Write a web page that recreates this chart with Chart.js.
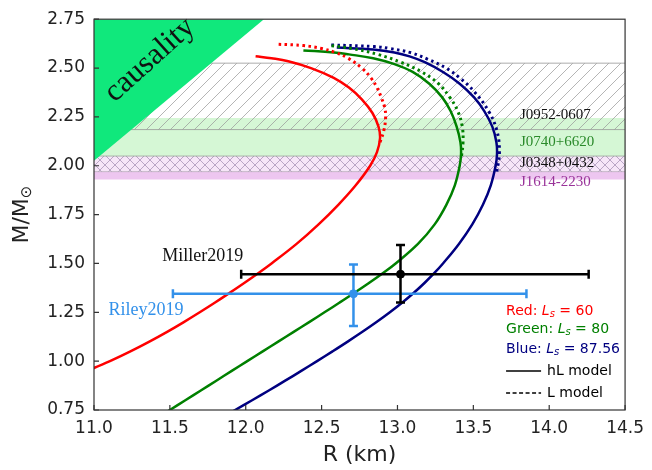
<!DOCTYPE html>
<html>
<head>
<meta charset="utf-8">
<script src="https://cdn.jsdelivr.net/npm/chart.js@4.4.1/dist/chart.umd.min.js"></script>
<style>
  html, body { margin: 0; padding: 0; background: #fff; }
  #wrap { width: 652px; height: 470px; }
</style>
</head>
<body>
<div id="wrap"><canvas id="mr"></canvas></div>
<script>
// M-R curves (R in km, M in solar masses)
const redHL_M = [0.945, 0.965, 1.00, 1.05, 1.10, 1.15, 1.20, 1.25, 1.30, 1.35, 1.40, 1.45, 1.50, 1.60, 1.70, 1.80, 1.90, 2.00, 2.07, 2.14, 2.20, 2.27, 2.34, 2.40, 2.45, 2.50, 2.535, 2.55, 2.56];
const redHL_R = [10.95, 11.0, 11.105, 11.24, 11.365, 11.482, 11.592, 11.697, 11.798, 11.895, 11.99, 12.082, 12.17, 12.335, 12.48, 12.61, 12.725, 12.82, 12.865, 12.885, 12.875, 12.835, 12.765, 12.68, 12.58, 12.43, 12.28, 12.17, 12.065];
const redL_M = [2.12, 2.18, 2.25, 2.30, 2.35, 2.40, 2.45, 2.50, 2.55, 2.58, 2.60, 2.615, 2.622];
const redL_R = [12.885, 12.91, 12.922, 12.915, 12.893, 12.865, 12.825, 12.765, 12.675, 12.59, 12.50, 12.38, 12.205];

const greenHL_M = [0.72, 0.75, 0.80, 0.85, 0.90, 0.95, 1.00, 1.05, 1.10, 1.15, 1.20, 1.25, 1.30, 1.35, 1.40, 1.45, 1.50, 1.60, 1.70, 1.80, 1.90, 2.00, 2.06, 2.12, 2.20, 2.28, 2.35, 2.42, 2.48, 2.52, 2.55, 2.57, 2.58, 2.59];
const greenHL_R = [11.44, 11.50, 11.602, 11.704, 11.806, 11.908, 12.01, 12.112, 12.214, 12.316, 12.418, 12.519, 12.619, 12.717, 12.812, 12.903, 12.988, 13.135, 13.245, 13.322, 13.378, 13.41, 13.419, 13.415, 13.39, 13.35, 13.295, 13.21, 13.10, 12.98, 12.84, 12.68, 12.58, 12.38];
const greenL_M = [2.05, 2.12, 2.20, 2.28, 2.35, 2.42, 2.48, 2.53, 2.57, 2.60, 2.615];
const greenL_R = [13.422, 13.432, 13.427, 13.397, 13.345, 13.27, 13.16, 13.02, 12.87, 12.70, 12.56];

const blueHL_M = [0.725, 0.75, 0.80, 0.85, 0.90, 0.95, 1.00, 1.05, 1.10, 1.15, 1.20, 1.25, 1.30, 1.35, 1.40, 1.45, 1.50, 1.60, 1.70, 1.80, 1.90, 2.00, 2.06, 2.12, 2.20, 2.28, 2.35, 2.42, 2.48, 2.53, 2.56, 2.58, 2.595, 2.605];
const blueHL_R = [11.875, 11.93, 12.042, 12.152, 12.26, 12.366, 12.47, 12.572, 12.672, 12.769, 12.862, 12.95, 13.032, 13.108, 13.178, 13.242, 13.30, 13.405, 13.493, 13.563, 13.615, 13.647, 13.656, 13.652, 13.625, 13.572, 13.505, 13.41, 13.30, 13.18, 13.08, 12.98, 12.84, 12.60];
const blueL_M = [1.97, 2.07, 2.18, 2.28, 2.38, 2.45, 2.50, 2.545, 2.578, 2.60, 2.61, 2.618];
const blueL_R = [13.655, 13.672, 13.655, 13.6, 13.505, 13.41, 13.32, 13.2, 13.09, 12.95, 12.85, 12.56];

// pulsar mass bands
const bandNames = ['J0952-0607', 'J0740+6620', 'J0348+0432', 'J1614-2230'];
const bandLow = [2.185, 2.045, 1.97, 1.93];
const bandHigh = [2.525, 2.245, 2.05, 1.97];

// NICER measurements
const obsNames = ['Miller2019', 'Riley2019'];
const obsR = [13.02, 12.71];
const obsRlo = [11.97, 11.52];
const obsRhi = [14.26, 13.85];
const obsM = [1.445, 1.345];
const obsMlo = [1.30, 1.18];
const obsMhi = [1.595, 1.495];

// causality limit edge
const causalR = [11.0, 12.12];
const causalM = [2.025, 2.75];

const xTicks = [11.0, 11.5, 12.0, 12.5, 13.0, 13.5, 14.0, 14.5];
const yTicks = [0.75, 1.00, 1.25, 1.50, 1.75, 2.00, 2.25, 2.50, 2.75];

const pts = (rs, ms) => rs.map((r, i) => ({ x: r, y: ms[i] }));

function hatch(size, bg, stroke, cross) {
    const c = document.createElement('canvas');
    c.width = size; c.height = size;
    const g = c.getContext('2d');
    if (bg) { g.fillStyle = bg; g.fillRect(0, 0, size, size); }
    g.strokeStyle = stroke;
    g.lineWidth = 1;
    g.beginPath();
    g.moveTo(-1, size + 1); g.lineTo(size + 1, -1);
    g.moveTo(-1, 1); g.lineTo(1, -1);
    g.moveTo(size - 1, size + 1); g.lineTo(size + 1, size - 1);
    if (cross) {
        g.moveTo(-1, -1); g.lineTo(size + 1, size + 1);
        g.moveTo(size - 1, -1); g.lineTo(size + 1, 1);
        g.moveTo(-1, size - 1); g.lineTo(1, size + 1);
    }
    g.stroke();
    return g.createPattern(c, 'repeat');
}

const grayHatch = hatch(12, null, 'rgba(150,150,150,0.7)', false);
const purpleHatch = hatch(10, 'rgba(235,200,240,0.45)', 'rgba(170,150,185,0.8)', true);

const flat = (m) => [{ x: 11.0, y: m }, { x: 14.5, y: m }];

function band(m, lo, fillColor, border, order) {
    return {
        data: flat(m), fill: { target: { value: lo } }, backgroundColor: fillColor,
        borderColor: border || 'rgba(0,0,0,0)', borderWidth: 1, pointRadius: 0, order: order
    };
}

function curve(rs, ms, color, dotted) {
    return {
        data: pts(rs, ms), borderColor: color, borderWidth: dotted ? 3 : 2.5,
        borderDash: dotted ? [2.5, 3.5] : [], tension: 0.4, pointRadius: 0, fill: false, order: 5
    };
}

function errBars(i, color) {
    const common = { borderColor: color, borderWidth: 2.5, fill: false, order: 1,
        pointStyle: 'line', pointRadius: 4.5, pointBorderColor: color, pointBorderWidth: 2.5 };
    return [
        Object.assign({ data: [{ x: obsRlo[i], y: obsM[i] }, { x: obsRhi[i], y: obsM[i] }], pointRotation: 90 }, common),
        Object.assign({ data: [{ x: obsR[i], y: obsMlo[i] }, { x: obsR[i], y: obsMhi[i] }], pointRotation: 0 }, common),
        { data: [{ x: obsR[i], y: obsM[i] }], showLine: false, pointStyle: 'circle', pointRadius: 4,
          pointBackgroundColor: color, pointBorderColor: color, order: 0 }
    ];
}

const datasets = [
    band(bandHigh[1], bandLow[1], 'rgba(150,235,150,0.4)', null, 20),
    band(bandHigh[3], bandLow[3], 'rgba(225,160,230,0.6)', null, 19),
    band(bandHigh[2], bandLow[2], purpleHatch, 'rgba(150,150,150,0.6)', 18),
    { data: flat(bandLow[2]), borderColor: 'rgba(150,150,150,0.6)', borderWidth: 1, pointRadius: 0, fill: false, order: 18 },
    band(bandHigh[0], bandLow[0], grayHatch, 'rgba(150,150,150,0.8)', 17),
    { data: flat(bandLow[0]), borderColor: 'rgba(150,150,150,0.8)', borderWidth: 1, pointRadius: 0, fill: false, order: 17 },
    { data: pts(causalR, causalM), fill: 'end', backgroundColor: '#10e87c', borderColor: '#10e87c',
      borderWidth: 0, pointRadius: 0, order: 15 },
    curve(redL_R, redL_M, '#ff0000', true),
    curve(greenL_R, greenL_M, '#008000', true),
    curve(blueL_R, blueL_M, '#000080', true),
    curve(redHL_R, redHL_M, '#ff0000', false),
    curve(greenHL_R, greenHL_M, '#008000', false),
    curve(blueHL_R, blueHL_M, '#000080', false),
    ...errBars(0, '#000000'),
    ...errBars(1, '#3391ea')
];

function runs(ctx, x, y, parts) {
    parts.forEach(p => {
        ctx.font = p.font;
        ctx.fillStyle = p.color;
        ctx.fillText(p.t, x, y + (p.dy || 0));
        x += ctx.measureText(p.t).width;
    });
    return x;
}

const decor = {
    id: 'decor',
    afterDatasetsDraw(chart) {
        const ctx = chart.ctx;
        const a = chart.chartArea;
        const xs = chart.scales.x, ys = chart.scales.y;
        ctx.save();

        // causality label
        ctx.save();
        ctx.translate(150, 60);
        ctx.rotate(-42 * Math.PI / 180);
        ctx.font = '31px "Liberation Serif"';
        ctx.fillStyle = '#111';
        ctx.textAlign = 'center';
        ctx.textBaseline = 'middle';
        ctx.fillText('causality', 0, 0);
        ctx.restore();

        // band labels
        const bandColors = ['#111111', '#2a8a2a', '#111111', '#993399'];
        const bandY = [2.26, 2.12, 2.015, 1.915];
        ctx.font = '15px "Liberation Serif"';
        ctx.textBaseline = 'middle';
        ctx.textAlign = 'left';
        bandNames.forEach((n, i) => {
            ctx.fillStyle = bandColors[i];
            ctx.fillText(n, xs.getPixelForValue(13.807), ys.getPixelForValue(bandY[i]));
        });

        // measurement labels
        ctx.font = '18px "Liberation Serif"';
        ctx.fillStyle = '#111';
        ctx.fillText(obsNames[0], xs.getPixelForValue(11.45), ys.getPixelForValue(1.535));
        ctx.fillStyle = '#3391ea';
        ctx.fillText(obsNames[1], xs.getPixelForValue(11.096), ys.getPixelForValue(1.26));

        // legend text
        const lx = a.right - 119;
        const f = '14px "DejaVu Sans"', fi = 'italic 14px "DejaVu Sans"', fs = 'italic 10px "DejaVu Sans"';
        [['Red: ', '60', '#ff0000', 311], ['Green: ', '80', '#008000', 329], ['Blue: ', '87.56', '#000080', 349]]
            .forEach(r => {
                runs(ctx, lx, r[3], [
                    { t: r[0], font: f, color: r[2] },
                    { t: 'L', font: fi, color: r[2] },
                    { t: 's', font: fs, color: r[2], dy: 3 },
                    { t: ' = ' + r[1], font: f, color: r[2] }
                ]);
            });
        ctx.strokeStyle = '#000';
        ctx.lineWidth = 1.5;
        ctx.beginPath();
        ctx.moveTo(lx, 371); ctx.lineTo(lx + 35, 371);
        ctx.stroke();
        ctx.setLineDash([4, 2.5]);
        ctx.beginPath();
        ctx.moveTo(lx, 393); ctx.lineTo(lx + 35, 393);
        ctx.stroke();
        ctx.setLineDash([]);
        ctx.font = f;
        ctx.fillStyle = '#000';
        ctx.fillText('hL model', lx + 41, 371);
        ctx.fillText('L model', lx + 41, 393);

        // frame and inward ticks
        ctx.strokeStyle = '#333';
        ctx.lineWidth = 1.2;
        ctx.strokeRect(a.left, a.top, a.right - a.left, a.bottom - a.top);
        ctx.beginPath();
        xTicks.forEach(v => {
            const px = xs.getPixelForValue(v);
            ctx.moveTo(px, a.bottom); ctx.lineTo(px, a.bottom - 5);
        });
        yTicks.forEach(v => {
            const py = ys.getPixelForValue(v);
            ctx.moveTo(a.left, py); ctx.lineTo(a.left + 5, py);
        });
        ctx.stroke();

        // y axis title with subscript sun symbol
        ctx.save();
        ctx.translate(22, (a.top + a.bottom) / 2);
        ctx.rotate(-Math.PI / 2);
        ctx.textBaseline = 'middle';
        ctx.font = '22px "DejaVu Sans"';
        const w1 = ctx.measureText('M/M').width;
        ctx.font = '15px "DejaVu Sans"';
        const w2 = ctx.measureText('\u2299').width;
        runs(ctx, -(w1 + w2) / 2, 0, [
            { t: 'M/M', font: '22px "DejaVu Sans"', color: '#222' },
            { t: '\u2299', font: '15px "DejaVu Sans"', color: '#222', dy: 5 }
        ]);
        ctx.restore();

        ctx.restore();
    }
};

new Chart(document.getElementById('mr'), {
    type: 'line',
    data: { datasets: datasets },
    options: {
        responsive: true,
        maintainAspectRatio: false,
        animation: false,
        layout: { padding: { left: 0, right: 24, top: 12, bottom: 0 } },
        plugins: { legend: { display: false }, tooltip: { enabled: false } },
        elements: { line: { borderCapStyle: 'butt' } },
        scales: {
            x: {
                type: 'linear', min: 11.0, max: 14.5,
                afterBuildTicks: s => { s.ticks = xTicks.map(v => ({ value: v })); },
                afterFit: s => { s.height = 60; },
                grid: { display: false, drawTicks: false },
                border: { display: false },
                ticks: { callback: v => v.toFixed(1), font: { family: 'DejaVu Sans', size: 17 }, color: '#222', padding: 8, maxRotation: 0 },
                title: { display: true, text: 'R (km)', font: { family: 'DejaVu Sans', size: 22 }, color: '#222', padding: { top: 2, bottom: 2 } }
            },
            y: {
                type: 'linear', min: 0.75, max: 2.75,
                afterBuildTicks: s => { s.ticks = yTicks.map(v => ({ value: v })); },
                afterFit: s => { s.width = 94; },
                grid: { display: false, drawTicks: false },
                border: { display: false },
                ticks: { callback: v => v.toFixed(2), font: { family: 'DejaVu Sans', size: 17 }, color: '#222', padding: 9 }
            }
        }
    },
    plugins: [decor]
});
</script>
</body>
</html>
